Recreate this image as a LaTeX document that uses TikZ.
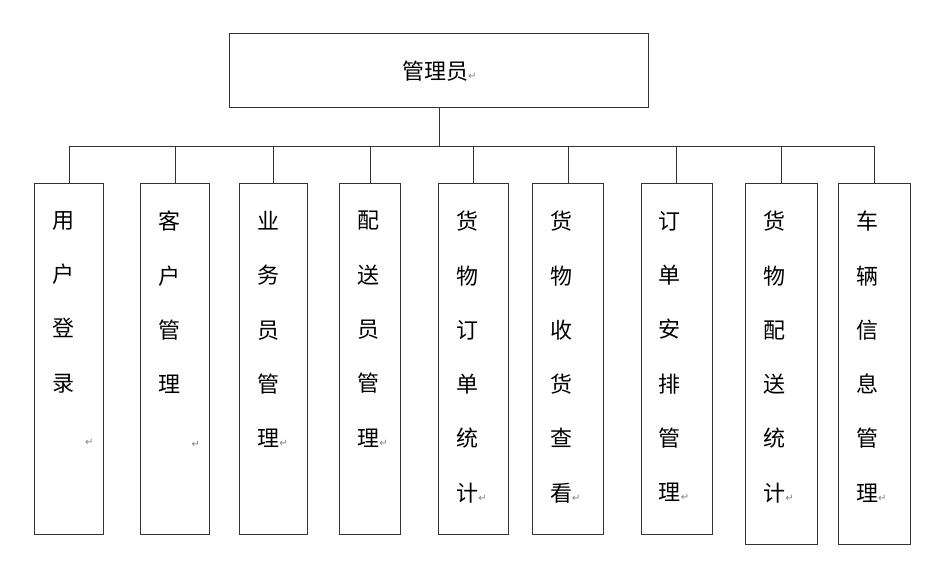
\documentclass[tikz,border=0pt]{standalone}
\usepackage{fontspec}
\usepackage{tikz}
\newfontfamily\cjkfont{Noto Sans CJK SC}
\newfontfamily\arrowfont{DejaVu Sans}
\newcommand\retmark{{\arrowfont\fontsize{10}{10}\selectfont\color{black!50}↵}}

\begin{document}
\begin{tikzpicture}[x=1pt,y=-1pt,
    box/.style={draw=black!80, line width=1pt, anchor=north, inner sep=0pt, minimum height=351.3pt},
    vtext/.style={anchor=north west, inner sep=0pt, align=left,
      font=\cjkfont\fontsize{22}{54.3}\selectfont}]
  \useasboundingbox (0,0) rectangle (939,561);
  % top
  \node[draw=black!80, line width=1pt, minimum width=418.7pt, minimum height=74pt,
    font=\cjkfont\fontsize{22}{24}\selectfont] (admin) at (439.3,71) {管理员\retmark};
  % boxes
  \node[box, minimum width=69.4pt] (b1) at (69,183) {};
  \node[box, minimum width=68.7pt] (b2) at (175.3,183) {};
  \node[box, minimum width=67.6pt] (b3) at (273.5,183) {};
  \node[box, minimum width=61.3pt] (b4) at (370.3,183) {};
  \node[box, minimum width=70pt] (b5) at (473.7,183) {};
  \node[box, minimum width=71.4pt] (b6) at (568,183) {};
  \node[box, minimum width=71.3pt] (b7) at (676.7,183) {};
  \node[box, minimum width=71.6pt, minimum height=361.3pt] (b8) at (781.5,183) {};
  \node[box, minimum width=71.7pt, minimum height=361.3pt] (b9) at (874.2,183) {};
  % texts
  \node[vtext] (t1) at ([shift={(18,28)}]b1.north west) {用\\户\\登\\录\\\hspace*{33pt}\retmark};
  \node[vtext] (t2) at ([shift={(18,28)}]b2.north west) {客\\户\\管\\理\\\hspace*{33pt}\retmark};
  \node[vtext] (t3) at ([shift={(18,28)}]b3.north west) {业\\务\\员\\管\\理\retmark};
  \node[vtext] (t4) at ([shift={(18,28)}]b4.north west) {配\\送\\员\\管\\理\retmark};
  \node[vtext] (t5) at ([shift={(18,28)}]b5.north west) {货\\物\\订\\单\\统\\计\retmark};
  \node[vtext] (t6) at ([shift={(18,28)}]b6.north west) {货\\物\\收\\货\\查\\看\retmark};
  \node[vtext] (t7) at ([shift={(18,28)}]b7.north west) {订\\单\\安\\排\\管\\理\retmark};
  \node[vtext] (t8) at ([shift={(18,28)}]b8.north west) {货\\物\\配\\送\\统\\计\retmark};
  \node[vtext] (t9) at ([shift={(18,28)}]b9.north west) {车\\辆\\信\\息\\管\\理\retmark};
  % lines
  \coordinate (hub) at ([shift={(0,37.7)}]admin.south);
  \draw[black!80, line width=1pt] (admin.south) -- (hub);
  \foreach \i in {1,...,9}
    \draw[black!80, line width=1pt] (hub) -| (b\i.north);
\end{tikzpicture}
\end{document}
